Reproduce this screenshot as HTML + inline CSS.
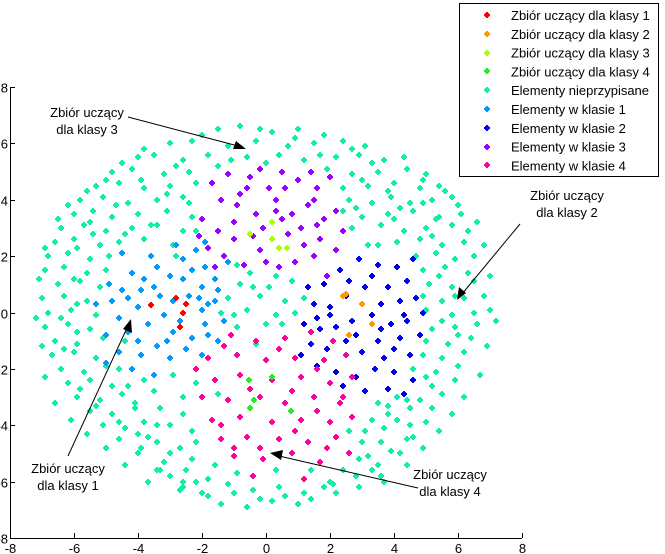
<!DOCTYPE html>
<html><head><meta charset="utf-8"><style>
html,body{margin:0;padding:0;background:#fff;}
svg{display:block;font-family:"Liberation Sans",sans-serif;}
</style></head><body>
<svg id="chart" width="665" height="554" viewBox="0 0 665 554" xmlns="http://www.w3.org/2000/svg">
<g id="marks"></g>
<g id="axes"></g>
<g font-size="13" fill="#000">
<text x="87" y="117" text-anchor="middle"><tspan x="87">Zbiór uczący</tspan><tspan x="87" dy="17">dla klasy 3</tspan></text>
<line x1="128" y1="117" x2="238" y2="146" stroke="#000" stroke-width="1"/>
<polygon points="246,149 233,149 236,141" fill="#000"/>
<text x="567" y="200" text-anchor="middle"><tspan x="567">Zbiór uczący</tspan><tspan x="567" dy="17">dla klasy 2</tspan></text>
<line x1="520" y1="224" x2="462" y2="294" stroke="#000"/>
<polygon points="457,300 459,287 466,293" fill="#000"/>
<text x="68" y="473" text-anchor="middle"><tspan x="68">Zbiór uczący</tspan><tspan x="68" dy="17">dla klasy 1</tspan></text>
<line x1="68" y1="456" x2="127" y2="328" stroke="#000"/>
<polygon points="131,319 132,333 123,329" fill="#000"/>
<text x="450" y="479" text-anchor="middle"><tspan x="450">Zbiór uczący</tspan><tspan x="450" dy="17">dla klasy 4</tspan></text>
<line x1="418" y1="488" x2="279" y2="456" stroke="#000"/>
<polygon points="270,453 283,450 281,460" fill="#000"/>
</g>
<g id="legend"></g>
</svg>
<script>
const seriesNames=["Zbiór uczący dla klasy 1","Zbiór uczący dla klasy 2","Zbiór uczący dla klasy 3","Zbiór uczący dla klasy 4","Elementy nieprzypisane","Elementy w klasie 1","Elementy w klasie 2","Elementy w klasie 3","Elementy w klasie 4"];
const seriesColors=["#ff0000","#ff9900","#aaff00","#22ee22","#11eeaa","#0099ff","#0000ee","#9900ff","#ff0099"];
const xTicks=[-8,-6,-4,-2,0,2,4,6,8];
const yTicks=[-8,-6,-4,-2,0,2,4,6,8];
const train1=[[-3.6,0.25],[-2.8,0.5],[-2.5,0.3],[-2.6,0.0],[-2.7,-0.5]];
const train2=[[2.4,0.6],[2.5,0.65],[3.0,0.3],[3.3,-0.4],[2.6,-0.8]];
const train3=[[-0.5,2.8],[0.2,3.2],[0.2,2.6],[0.4,2.3],[0.66,2.28]];
const train4=[[-0.53,-2.4],[-0.37,-3.1],[-0.5,-3.4],[0.19,-2.3],[0.78,-3.5]];
const unassigned=[[-1.5,6.5],[-0.8,6.6],[0.2,6.4],[1.0,6.5],[1.8,6.3],
[-3,6.0],[-2.3,6.1],[-1.2,5.9],[-0.3,6.1],[0.7,5.9],[1.5,6.0],[2.4,6.1],[3.1,5.9],
[-4,5.5],[-3.5,5.6],[-2.6,5.4],[-1.8,5.6],[-0.6,5.5],[0.4,5.6],[1.2,5.4],[2.2,5.5],[2.9,5.6],[3.7,5.4],[4.3,5.5],
[-4.8,5.0],[-4.2,5.1],[-3.2,4.9],[-2.4,5.0],[-1.5,5.2],[1.9,5.1],[2.7,4.9],[3.5,5.0],[4.4,5.1],[5.0,4.9],
[-5.3,4.5],[-4.6,4.6],[-3.8,4.4],[-3.0,4.5],[-2.2,4.6],[2.4,4.4],[3.2,4.5],[4.0,4.6],[4.8,4.4],[5.4,4.5],
[-5.8,4.0],[-5.1,4.1],[-4.3,3.9],[-3.4,4.0],[-2.6,4.1],[2.6,4.0],[3.3,3.9],[3.9,4.1],[4.5,3.9],[5.2,4.0],[5.8,4.1],
[-6.0,3.5],[-5.4,3.6],[-4.8,3.4],[-4.0,3.5],[-3.1,3.6],[-2.3,3.4],[2.4,3.6],[3.0,3.4],[3.8,3.5],[4.6,3.6],[5.4,3.4],[6.1,3.5],
[-6.4,3.0],[-5.7,3.1],[-5.0,2.9],[-4.2,3.0],[-3.4,3.1],[-2.6,2.9],[2.7,3.0],[3.6,3.1],[4.3,2.9],[5.0,3.0],[5.8,3.1],[6.3,2.9],
[-6.6,2.5],[-6.0,2.6],[-5.2,2.4],[-4.6,2.5],[-3.8,2.6],[-2.9,2.4],[4.1,2.5],[4.8,2.6],[5.5,2.4],[6.2,2.5],
[-6.8,2.0],[-6.2,2.1],[-5.5,1.9],[-4.9,2.0],[-2.2,2.9],[4.7,2.0],[5.3,2.1],[5.9,1.9],[6.5,2.0],
[-6.9,1.5],[-6.3,1.6],[-5.6,1.4],[-5.0,1.5],[-0.5,1.4],[0.3,1.3],[4.9,1.5],[5.6,1.6],[6.3,1.4],
[-6.5,1.0],[-5.8,1.1],[-5.2,0.9],[-0.8,1.0],[0.1,0.9],[0.8,1.1],[5.1,1.0],[5.8,0.9],[6.5,1.1],
[-7.0,0.5],[-6.3,0.6],[-5.6,0.4],[-1.2,0.5],[-0.2,0.6],[0.6,0.4],[1.2,0.5],[4.9,0.6],[5.5,0.4],[6.2,0.5],[6.8,0.6],
[-6.8,0.0],[-6.1,0.1],[-5.3,-0.1],[-1.4,0.0],[-0.6,0.1],[0.3,-0.1],[5.0,0.1],[5.8,-0.1],[6.5,0.0],[7.0,0.1],
[-6.9,-0.5],[-6.2,-0.4],[-5.5,-0.6],[-0.9,-0.5],[0.0,-0.4],[5.2,-0.6],[5.9,-0.5],[6.6,-0.4],
[-6.6,-1.0],[-5.9,-1.1],[-5.1,-0.9],[-4.4,-1.0],[-0.3,-1.1],[0.5,-0.4],[5.0,-1.0],[5.7,-1.1],[6.4,-0.9],
[-6.7,-1.5],[-6.0,-1.4],[-5.3,-1.6],[-4.6,-2.0],[-3.8,-2.4],[-2.9,-2.2],[-2.2,-2.5],[4.9,-1.5],[5.5,-1.6],[6.2,-1.4],
[-6.4,-2.0],[-5.7,-2.1],[-5.0,-1.9],[-4.3,-2.6],[-3.5,-2.8],[-2.6,-3.0],[4.6,-2.0],[5.3,-2.1],[6.0,-1.9],
[-6.2,-2.5],[-5.5,-2.4],[-4.8,-2.6],[-4.1,-3.2],[-3.3,-3.4],[-2.6,-3.6],[3.8,-3.3],[4.5,-3.4],[5.2,-2.6],[5.9,-2.4],
[-5.9,-3.0],[-5.2,-3.1],[-4.5,-2.9],[-3.8,-3.9],[-3.0,-4.0],[-2.3,-4.2],[3.3,-3.8],[4.1,-3.0],[4.8,-3.1],[5.5,-2.9],
[-5.5,-3.5],[-4.8,-3.6],[-4.1,-3.4],[-3.4,-4.6],[-2.7,-4.8],[3.1,-4.2],[3.8,-3.6],[4.5,-4.0],[5.2,-3.4],
[-5.1,-4.0],[-4.4,-4.1],[-3.7,-4.4],[-3.0,-5.0],[-2.3,-5.2],[3.0,-4.6],[3.7,-4.1],[4.4,-4.5],[5.0,-3.9],
[-4.6,-4.5],[-3.9,-4.8],[-3.2,-5.3],[-2.5,-5.6],[2.4,-5.6],[3.2,-5.1],[3.9,-4.9],[4.6,-4.4],
[-4.0,-5.0],[-3.3,-5.6],[-2.6,-6.0],[-1.8,-5.9],[2.0,-6.0],[2.8,-5.8],[3.5,-5.4],[4.2,-5.0],
[-3.4,-5.6],[-2.7,-6.3],[-2.0,-6.4],[-1.2,-6.1],[-0.4,-6.3],[0.4,-6.2],[1.2,-6.4],[2.1,-6.1],[2.9,-6.2],[3.6,-5.8],
[-2.6,-6.2],[-1.8,-6.5],[-1.0,-6.4],[-0.2,-6.6],[0.6,-6.5],[1.4,-6.6],[2.2,-6.4],
[-1.4,-6.8],[-0.6,-6.9],[0.2,-6.7],[1.0,-6.8],
[-0.9,1.7],[-2.8,2.0],[-0.4,0.9],[0.9,0.0],[-1.0,-0.1],[-3.1,4.2],[3.5,2.4],[4.0,3.3],[-4.4,2.8],[-5.9,-0.7],[3.5,-3.2],[-1.5,-2.9],
[-2.0,6.3],[0.9,6.2],[-3.8,5.8],[2.7,5.8],[-4.5,5.3],[3.3,5.3],[-5.0,4.7],[4.9,4.7],[-5.6,4.3],[5.6,4.3],[-6.2,3.8],[6.0,3.8],
[-6.5,3.3],[6.6,3.2],[-6.9,2.3],[6.8,2.4],[-7.1,1.2],[7.0,1.3],[-7.2,-0.2],[7.2,-0.3],[-7.0,-1.2],[6.9,-1.2],[-6.9,-2.3],[6.7,-2.2],
[-6.6,-3.2],[6.2,-3.0],[-6.1,-3.8],[5.8,-3.6],[-5.6,-4.3],[5.4,-4.2],[-5.0,-4.8],[4.9,-4.8],[-4.4,-5.4],[4.4,-5.4],[-3.7,-6.0],[3.7,-6.0],
[-3.9,4.7],[-2.8,5.2],[3.0,4.7],[3.8,4.3],[-4.7,3.8],[4.2,3.7],[-5.5,3.2],[5.3,3.3],[-5.9,2.3],[5.2,2.7],[-6.0,1.2],[5.4,1.3],
[-6.4,-0.2],[5.5,-0.3],[-6.3,-1.3],[6.0,-0.8],[-5.8,-2.7],[5.0,-2.3],[-5.3,-3.3],[4.4,-3.1],[-4.6,-3.9],[4.1,-3.8],[-4.0,-4.3],[3.6,-4.6],
[-3.4,-4.0],[2.9,-5.2],[-1.6,-5.4],[1.4,-5.6],[-0.9,-5.7],[0.3,-5.6],[-2.2,-4.6],[2.6,-4.2],[-5.9,0.3],[5.9,0.6],[-5.4,2.8],[4.9,3.9],
[-3.6,3.1],[3.2,2.4],[-2.4,3.9],[2.8,3.7],[-1.1,5.4],[1.7,5.6],[0.0,5.3],[-0.2,6.5],[-2.2,-6.0],[1.8,-6.2],[-3.0,-5.8],[3.3,-5.6]];
const class1=[[-4.9,1.0],[-4.5,0.8],[-4.2,1.4],[-3.8,1.2],[-3.4,1.6],[-3.0,1.3],[-2.6,1.9],[-2.2,2.2],[-1.9,1.6],[-1.6,1.2],[-2.0,0.9],[-2.4,0.6],[-2.9,0.4],[-3.3,0.6],[-4.0,0.2],[-4.6,-0.2],[-5.0,-0.8],[-4.3,-0.7],[-3.7,-0.4],[-3.2,-0.1],[-2.0,0.1],[-1.6,0.4],[-1.3,-0.3],[-1.8,-0.8],[-2.3,-0.9],[-2.9,-0.7],[-3.4,-1.2],[-3.9,-1.5],[-4.6,-1.4],[-4.2,-2.0],[-3.0,-1.6],[-2.5,-1.3],[-2.0,-1.5],[-1.5,-1.0],[-2.8,2.4],[-3.6,2.0],[-4.5,2.1],[-5.3,0.3],[-3.9,0.8],[-2.6,1.2],[-1.9,2.5],[-1.2,1.8],[-1.5,0.8],[-2.3,1.5],[-3.1,-1.0],[-4.0,-1.0],[-4.8,0.4],[-2.7,-0.3],[-1.9,-0.4],[-5.0,-1.8],[-3.5,-2.2],[-2.1,0.5],[-1.8,0.3],[-3.5,0.9],[-4.3,0.5]];
const class2=[[1.8,1.0],[2.3,1.5],[2.9,1.9],[3.5,1.7],[4.1,1.6],[4.6,1.9],[4.4,1.1],[3.8,0.9],[3.1,0.9],[2.5,0.6],[1.5,0.3],[2.0,0.2],[3.6,0.3],[4.2,0.4],[4.7,0.5],[1.2,-0.4],[1.7,-0.6],[2.2,-0.5],[2.7,-0.3],[3.3,-0.1],[3.9,-0.4],[4.4,-0.3],[4.8,-0.8],[1.4,-1.1],[1.9,-1.3],[2.5,-1.0],[3.0,-1.4],[3.5,-1.0],[4.0,-1.3],[4.5,-1.5],[1.6,-1.9],[2.2,-2.1],[2.8,-2.3],[3.4,-2.0],[4.0,-2.1],[4.6,-2.4],[3.1,-2.8],[3.8,-2.7],[4.3,-2.9],[1.3,0.9],[2.0,-0.1],[2.6,1.1],[3.3,1.3],[4.9,0.0],[2.4,-2.6],[1.1,-1.5],[3.7,-1.6],[4.3,-0.1],[1.6,-0.2],[2.8,-0.8],[3.6,-0.6],[4.2,-0.9]];
const class3=[[-1.7,4.6],[-1.2,4.9],[-0.6,4.4],[-0.2,5.1],[0.5,5.0],[1.0,4.7],[1.6,4.4],[2.0,4.8],[-1.4,4.0],[-0.9,3.8],[-0.3,3.5],[0.3,4.0],[0.8,3.5],[1.3,3.8],[1.8,3.3],[2.2,3.6],[-2.0,3.3],[-1.5,2.9],[-1.0,2.6],[-0.1,3.0],[0.7,2.8],[1.2,2.4],[1.7,2.6],[2.2,2.2],[-1.8,2.3],[-1.3,2.0],[-0.7,1.7],[-0.2,2.2],[0.4,1.6],[0.9,1.8],[1.5,2.0],[1.9,1.3],[-2.1,2.7],[-0.5,4.8],[0.1,4.4],[1.4,5.0],[-1.0,3.2],[0.5,3.3],[1.1,3.0],[1.6,3.1],[-0.4,2.7],[0.0,1.8],[-1.6,1.6],[2.4,2.9],[0.6,4.4],[-0.8,4.2],[0.3,3.6],[1.5,4.0]];
const class4=[[-1.1,-0.8],[-0.3,-1.0],[0.6,-0.9],[1.4,-0.7],[2.1,-1.0],[-1.8,-1.6],[-0.9,-1.5],[0.0,-1.7],[0.9,-1.6],[1.8,-1.7],[2.5,-1.5],[-1.6,-2.4],[-0.8,-2.2],[0.2,-2.4],[1.1,-2.3],[2.0,-2.5],[2.7,-2.3],[-2.0,-3.0],[-1.2,-3.1],[-0.2,-3.0],[0.6,-3.2],[1.5,-3.0],[2.3,-3.2],[-1.7,-3.8],[-0.8,-3.7],[0.2,-3.9],[1.1,-3.8],[2.0,-3.9],[2.7,-3.7],[-1.4,-4.5],[-0.6,-4.4],[0.4,-4.5],[1.3,-4.6],[2.2,-4.4],[-1.0,-5.1],[-0.1,-5.2],[0.8,-5.0],[1.7,-5.3],[2.6,-5.0],[-0.4,-5.8],[1.2,-5.9],[-2.2,-2.0],[-0.5,-2.7],[1.6,-2.0],[0.4,-1.3],[-1.4,-4.0],[2.4,-3.0],[0.9,-4.2],[-0.2,-4.8],[1.9,-4.8],[-1.3,-1.2],[0.8,-2.8],[-1.0,-4.8],[1.6,-3.5]];

const NS="http://www.w3.org/2000/svg";
const X0=10,X1=522,Y0=538,Y1=87;
function sx(v){return X0+(v+8)/16*(X1-X0);}
function sy(v){return Y0-(v+8)/16*(Y0-Y1);}
function el(t,a){const e=document.createElementNS(NS,t);for(const k in a)e.setAttribute(k,a[k]);return e;}
function marker(g,cx,cy,color){
  cx=Math.round(cx);cy=Math.round(cy);
  return el("path",{d:`M${cx-3} ${cy-1}h6v2h-6zM${cx-1} ${cy-3}h2v6h-2zM${cx-2} ${cy-2}h4v4h-4z`,fill:color});
}
const marks=document.getElementById("marks");
const drawOrder=[[unassigned,4],[class1,5],[class2,6],[class3,7],[class4,8],[train1,0],[train2,1],[train3,2],[train4,3]];
drawOrder.forEach(([arr,si])=>{
  const g=el("g",{});
  
  
  arr.forEach(p=>{
    const m=marker(g,sx(p[0]),sy(p[1]),seriesColors[si]);
    
    
    g.appendChild(m);
  });
  marks.appendChild(g);
});
const axes=document.getElementById("axes");
const xl=el("line",{x1:X0,y1:Y0+0.5,x2:X1,y2:Y0+0.5,stroke:"#000"});


axes.appendChild(xl);
const yl=el("line",{x1:X0+0.5,y1:Y0,x2:X0+0.5,y2:Y1,stroke:"#000"});


axes.appendChild(yl);
xTicks.forEach(t=>{
  const x=Math.round(sx(t))+0.5;
  const tk=el("line",{x1:x,y1:Y0,x2:x,y2:Y0-5,stroke:"#000"});
  
  
  axes.appendChild(tk);
  const tx=el("text",{x:x,y:Y0+15,"text-anchor":"middle","font-size":"13"});
  
  
  tx.textContent=t;axes.appendChild(tx);
});
yTicks.forEach(t=>{
  const y=Math.round(sy(t))+0.5;
  const tk=el("line",{x1:X0,y1:y,x2:X0+5,y2:y,stroke:"#000"});
  
  
  axes.appendChild(tk);
  const tx=el("text",{x:X0-2,y:y+5,"text-anchor":"end","font-size":"13"});
  
  
  tx.textContent=t;axes.appendChild(tx);
});
const legend=document.getElementById("legend");
const box=el("rect",{x:459.5,y:3.5,width:199,height:173,fill:"#fff",stroke:"#000"});


legend.appendChild(box);
seriesNames.forEach((n,i)=>{
  const y=15+i*18.8;
  const g=el("g",{});
  
  
  g.appendChild(marker(g,487,y,seriesColors[i]));
  const t=el("text",{x:511,y:y+5,"font-size":"13"});
  t.textContent=n;g.appendChild(t);
  legend.appendChild(g);
});
</script>
</body></html>
